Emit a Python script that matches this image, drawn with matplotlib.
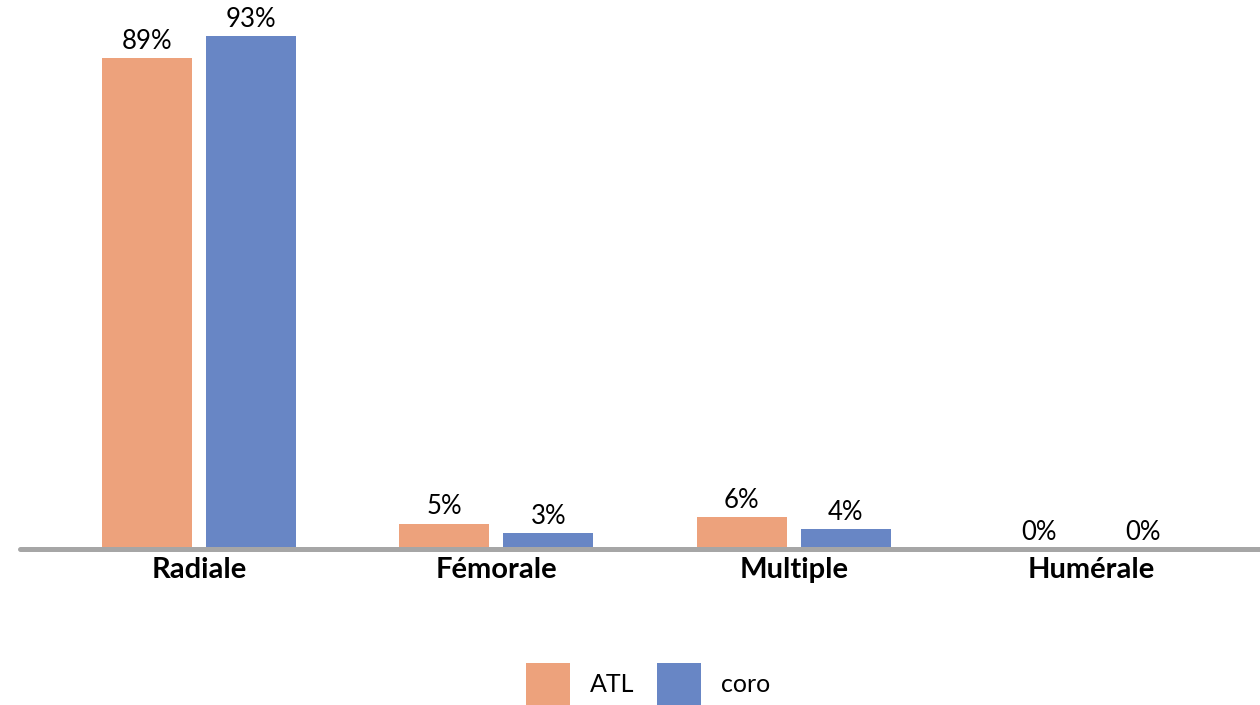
import matplotlib
matplotlib.use("Agg")
import matplotlib.pyplot as plt
import numpy as np

categories = ["Radiale", "Fémorale", "Multiple", "Humérale"]
atl = [89.0, 4.6, 5.8, 0.0]
coro = [93.0, 2.9, 3.6, 0.0]
series_names = ["ATL", "coro"]

c_atl = "#EDA27C"
c_coro = "#6886C5"

plt.rcParams['font.family'] = ['Lato', 'DejaVu Sans']

W, H = 1260, 705
fig = plt.figure(figsize=(W / 100, H / 100), dpi=100)
ax = fig.add_axes([20 / W, 156 / H, 1 - 20 / W, 1 - 156 / H])

x = np.arange(len(categories))
bw = 0.303
off = 0.175
b1 = ax.bar(x - off, atl, bw, color=c_atl, label=series_names[0], zorder=2)
b2 = ax.bar(x + off, coro, bw, color=c_coro, label=series_names[1], zorder=2)

for bars, vals in ((b1, atl), (b2, coro)):
    for rect, v in zip(bars, vals):
        ax.annotate(f"{v:.0f}%", (rect.get_x() + rect.get_width() / 2, v),
                    xytext=(0, 3), textcoords="offset points",
                    ha="center", va="bottom", fontsize=18.5, color="#000000")

ax.set_xlim(-0.602, 3.568)
ax.set_ylim(0, 99.5)
for s in ("top", "right", "left"):
    ax.spines[s].set_visible(False)
ax.spines["bottom"].set_color("#A6A6A6")
ax.spines["bottom"].set_linewidth(3.6)
ax.spines["bottom"].set_capstyle("round")
ax.set_yticks([])
ax.set_xticks(x)
ax.set_xticklabels(categories, fontsize=21, fontweight="bold")
ax.tick_params(axis="x", length=0, pad=6)

fig.legend(handles=[b1, b2], labels=series_names, loc="center",
           bbox_to_anchor=(648 / W, 1 - 684 / H), ncol=2, frameon=False,
           fontsize=18, handlelength=1.75, handleheight=2.2,
           handletextpad=0.8, columnspacing=0.9)

fig.savefig("out.png", dpi=100)
